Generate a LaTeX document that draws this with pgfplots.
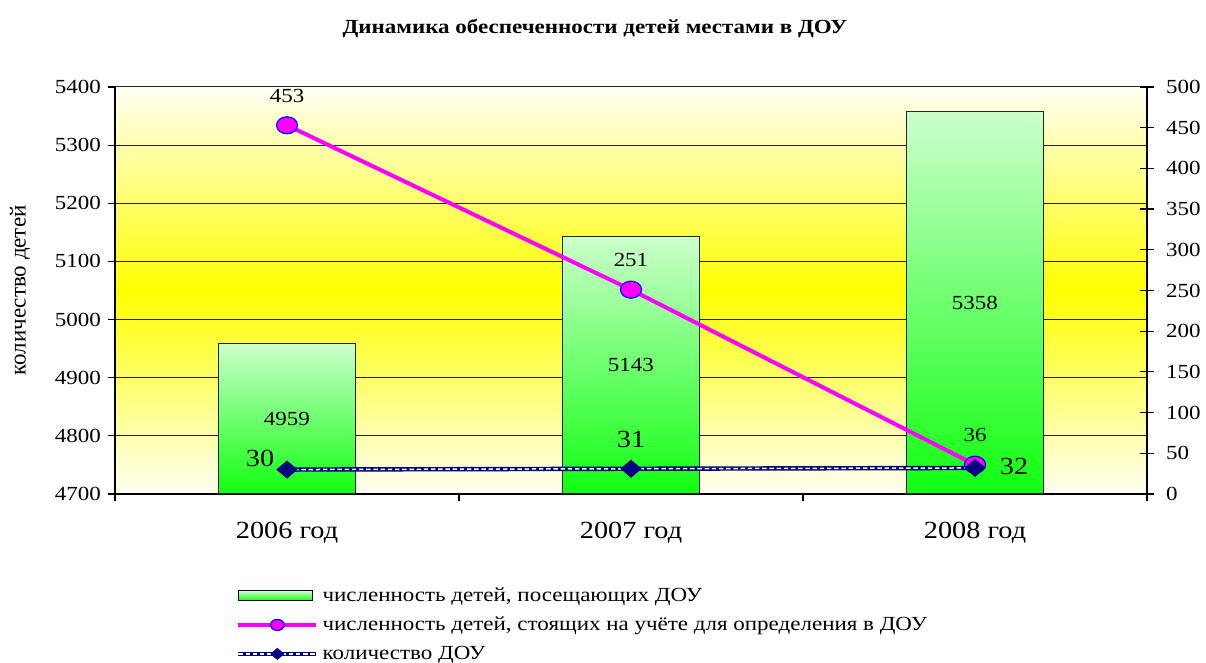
\documentclass[border=0pt]{standalone}
\usepackage{fontspec}
\setmainfont{Liberation Serif}[FakeStretch=1.15]
\newfontfamily\yfont{Liberation Serif}
\usepackage{pgfplots}
\usepackage{pgfplotstable}
\pgfplotsset{compat=1.18}

\definecolor{barTop}{HTML}{CCFFCC}
\definecolor{barBot}{HTML}{11FF11}
\definecolor{bgEdge}{HTML}{FFFFF4}
\definecolor{bgMid}{HTML}{FFFF00}
\definecolor{queueC}{HTML}{FF00FF}
\definecolor{douC}{HTML}{000080}
\definecolor{gridC}{HTML}{262626}

% year, children attending, children on waiting list, number of kindergartens
\pgfplotstableread{
x kids queue dou
0 4959 453 30
1 5143 251 31
2 5358 36 32
}\doudata

\pgfplotsset{common/.style={
    scale only axis, width=516pt, height=203.5pt,
    xmin=-0.5, xmax=2.5,
    /pgf/number format/assume math mode=true,
    /pgf/number format/1000 sep={},
    tick label style={font=\fontsize{10}{12}\selectfont},
    axis line style={black, line width=0.75pt},
    tick style={black, line width=0.6pt},
  },
  kidbar/.style={ybar, bar width=0.4, draw=black!85, line width=0.6pt,
    top color=barTop, bottom color=barBot},
}

\begin{document}
\begin{tikzpicture}
\path[use as bounding box] (-57.5pt,-84.5pt) rectangle (545.5pt,247pt);
\begin{axis}[common,
    axis background/.style={top color=bgEdge, bottom color=bgEdge, middle color=bgMid},
    y coord trafo/.code={\pgfmathparse{#1-4700}},
    y coord inv trafo/.code={\pgfmathparse{#1+4700}},
    ymin=4700, ymax=5400, ytick={4700,4800,...,5400},
    axis x line*=bottom, axis y line*=left,
    tick align=outside, major tick length=3.5pt,
    ymajorgrids, grid style={gridC, line width=0.5pt},
    xtick={-0.5,0.5,1.5,2.5}, x tick label as interval,
    xticklabels={2006 год,2007 год,2008 год},
    xticklabel style={font=\fontsize{12.3}{14}\selectfont, yshift=-7.2pt},
    title={Динамика обеспеченности детей местами в ДОУ},
    title style={at={(0.4651,1)}, anchor=center, yshift=23.5pt, font=\bfseries\fontsize{10}{12}\selectfont},
    ylabel={\yfont количество детей},
    every axis y label/.style={at={(-0.092,0.5)}, rotate=90, anchor=center, font=\fontsize{11.5}{13}\selectfont},
  ]
  % one bar per plot, so that each bar gets its own gradient
  \pgfplotsinvokeforeach{0,1,2}{
    \addplot[kidbar, restrict x to domain=#1:#1] table[x=x, y=kids] {\doudata};
  }
  \addplot[draw=none, nodes near coords, point meta=explicit,
    nodes near coords style={anchor=center, text=black, font=\fontsize{10}{12}\selectfont}]
    table[x=x, y expr={(\thisrow{kids}+4700)/2}, meta=kids] {\doudata};
\end{axis}
\begin{axis}[common,
    ymin=0, ymax=500, ytick distance=50,
    axis x line=none, axis y line*=right,
    tick align=center, major tick length=7pt,
    yticklabel style={xshift=2.5pt},
    legend style={at={(0.117,-0.2187)}, anchor=north west, draw=none, fill=none,
      inner sep=0pt, row sep=2.25pt, font=\fontsize{10}{12}\selectfont, cells={anchor=west}},
    legend cell align=left,
    legend image code/.code={\draw[mark repeat=2, mark phase=2, #1, every mark/.append style={scale=0.65}]
      plot coordinates {(0pt,0pt) (19.5pt,0pt) (39pt,0pt)};},
  ]
  \addlegendimage{legend image code/.code={\draw[draw=black, line width=0.6pt, top color=barTop, bottom color=barBot]
      (0pt,-2.5pt) rectangle (37pt,2.5pt);}}
  \addlegendentry{численность детей, посещающих ДОУ}
  \addplot[queueC, line width=2pt, mark=*, mark size=5.25pt,
    mark options={yscale=0.81, fill=queueC, draw=blue, line width=0.6pt},
    nodes near coords, point meta=explicit,
    nodes near coords style={anchor=center, yshift=14.75pt, text=black, font=\fontsize{10}{12}\selectfont}]
    table[x=x, y=queue, meta=queue] {\doudata};
  \addlegendentry{численность детей, стоящих на учёте для определения в ДОУ}
  \addplot[douC, line width=2.2pt,
    postaction={draw=white, line width=0.75pt, dash pattern=on 2.2pt off 1.4pt},
    mark=diamond*, mark size=4.25pt,
    mark options={xscale=1.57, solid, fill=douC, draw=douC, line width=0.4pt},
    nodes near coords, point meta=explicit,
    nodes near coords style={anchor=center, text=black, font=\fontsize{12.3}{14}\selectfont},
    coordinate style/.condition={\coordindex==0}{xshift=-13.5pt, yshift=5.5pt},
    coordinate style/.condition={\coordindex==1}{yshift=14.5pt},
    coordinate style/.condition={\coordindex==2}{xshift=19.5pt, yshift=0.5pt}]
    table[x=x, y=dou, meta=dou] {\doudata};
  \addlegendentry{количество ДОУ}
\end{axis}
\end{tikzpicture}
\end{document}
